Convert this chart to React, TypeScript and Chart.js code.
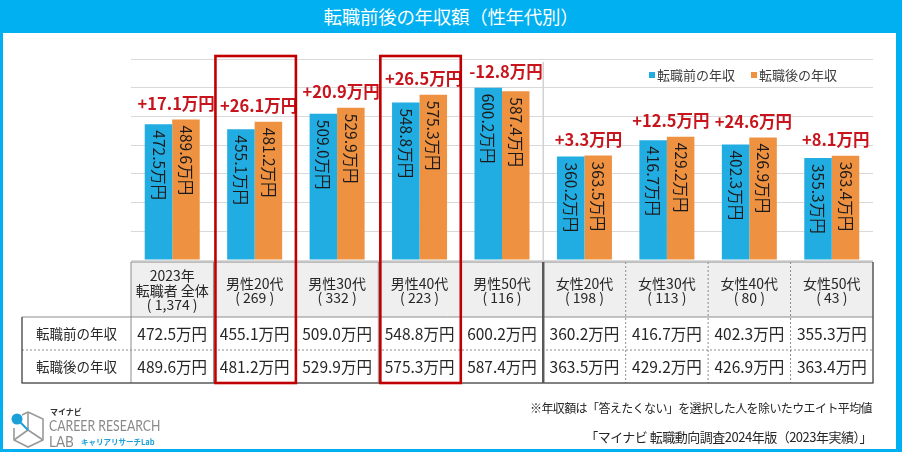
import React, { useEffect, useRef } from 'react';
import { Chart, registerables } from 'chart.js';

Chart.register(...registerables);

const FONT = '"Noto Sans CJK JP", "Noto Sans", sans-serif';

// ---- data ----
const groupLabels: string[][] = [
  ['2023年', '転職者 全体'],
  ['男性20代'],
  ['男性30代'],
  ['男性40代'],
  ['男性50代'],
  ['女性20代'],
  ['女性30代'],
  ['女性40代'],
  ['女性50代'],
];
const sampleSizes = ['1,374', '269', '332', '223', '116', '198', '113', '80', '43'];
const beforeIncome = [472.5, 455.1, 509.0, 548.8, 600.2, 360.2, 416.7, 402.3, 355.3];
const afterIncome = [489.6, 481.2, 529.9, 575.3, 587.4, 363.5, 429.2, 426.9, 363.4];
const seriesNames = ['転職前の年収', '転職後の年収'];
const highlightedGroups = ['男性20代', '男性40代'];
const yMax = 700;
const yStep = 100;

const BLUE = '#22ade2';
const ORANGE = '#ee9140';
const RED = '#c00000';

const fmt = (v: number) => `${v.toFixed(1)}万円`;
const fmtDiff = (d: number) => `${d >= 0 ? '+' : '-'}${Math.abs(d).toFixed(1)}万円`;

const overlayPlugin = {
  id: 'overlay',
  beforeDatasetsDraw(chart: any) {
    const { ctx, chartArea: ca, scales } = chart;
    const x = scales.x;
    const n = groupLabels.length;
    const cw = (ca.right - ca.left) / n;
    const splitIdx = groupLabels.findIndex((g) => g[0].startsWith('女性'));
    const sx = x.getPixelForValue(splitIdx) - cw / 2;
    ctx.save();
    ctx.strokeStyle = '#d2d2d2';
    ctx.lineWidth = 1.5;
    ctx.beginPath();
    ctx.moveTo(sx, ca.top + 3);
    ctx.lineTo(sx, ca.bottom);
    ctx.stroke();
    ctx.restore();
  },
  afterDatasetsDraw(chart: any) {
    const { ctx, chartArea: ca, scales } = chart;
    const x = scales.x;
    const n = groupLabels.length;
    const cw = (ca.right - ca.left) / n;
    const colL = (i: number) => x.getPixelForValue(i) - cw / 2;
    const colR = (i: number) => x.getPixelForValue(i) + cw / 2;
    const m0 = chart.getDatasetMeta(0);
    const m1 = chart.getDatasetMeta(1);

    ctx.save();
    // bar value labels (rotated)
    ctx.font = `15.5px ${FONT}`;
    ctx.fillStyle = '#1a1a1a';
    [m0, m1].forEach((meta: any, di: number) => {
      const vals = di === 0 ? beforeIncome : afterIncome;
      meta.data.forEach((el: any, i: number) => {
        ctx.save();
        ctx.translate(el.x, el.y + 6);
        ctx.rotate(Math.PI / 2);
        ctx.textAlign = 'left';
        ctx.textBaseline = 'middle';
        ctx.fillText(fmt(vals[i]), 0, 0);
        ctx.restore();
      });
    });

    // difference labels
    ctx.font = `bold 16.5px ${FONT}`;
    ctx.fillStyle = '#c8141c';
    ctx.textAlign = 'center';
    ctx.textBaseline = 'middle';
    groupLabels.forEach((_, i) => {
      const a = m0.data[i];
      const b = m1.data[i];
      const cx = (a.x + b.x) / 2;
      const top = Math.min(a.y, b.y);
      ctx.fillText(fmtDiff(afterIncome[i] - beforeIncome[i]), cx + 4, top - 16);
    });

    // legend
    ctx.font = `13px ${FONT}`;
    ctx.textBaseline = 'middle';
    ctx.textAlign = 'left';
    const colors = [BLUE, ORANGE];
    const sq = 6;
    const gapSq = 2;
    const gapItem = 16;
    const widths = seriesNames.map((s) => ctx.measureText(s).width);
    const total = widths.reduce((a, w) => a + sq + gapSq + w, 0) + gapItem;
    let lx = ca.right - 36 - total;
    const ly = ca.top + 16;
    seriesNames.forEach((s, i) => {
      ctx.fillStyle = colors[i];
      ctx.fillRect(lx, ly - sq / 2, sq, sq);
      ctx.fillStyle = '#404040';
      ctx.fillText(s, lx + sq + gapSq, ly + 0.5);
      lx += sq + gapSq + widths[i] + gapItem;
    });

    // ---- table ----
    const tTop = ca.bottom + 2;
    const hB = tTop + 55;
    const r1B = hB + 33;
    const r2B = r1B + 33;
    const tLeft = 22;
    const tRight = ca.right;

    // header background
    ctx.fillStyle = '#efefef';
    groupLabels.forEach((_, i) => {
      ctx.fillRect(colL(i), tTop, cw, hB - tTop);
    });

    // header text
    ctx.fillStyle = '#262626';
    ctx.font = `14px ${FONT}`;
    ctx.textAlign = 'center';
    ctx.textBaseline = 'middle';
    const lh = 14.5;
    groupLabels.forEach((g, i) => {
      const lines = [...g, `( ${sampleSizes[i]} )`];
      const cy = (tTop + hB) / 2;
      const start = cy - ((lines.length - 1) * lh) / 2;
      lines.forEach((ln, k) => ctx.fillText(ln, x.getPixelForValue(i), start + k * lh + 1));
    });

    // row labels and values
    ctx.font = `13.5px ${FONT}`;
    ctx.fillText(seriesNames[0], (tLeft + ca.left) / 2, (hB + r1B) / 2);
    ctx.fillText(seriesNames[1], (tLeft + ca.left) / 2, (r1B + r2B) / 2);
    ctx.font = `15.5px ${FONT}`;
    groupLabels.forEach((_, i) => {
      ctx.fillText(fmt(beforeIncome[i]), x.getPixelForValue(i), (hB + r1B) / 2 + 1);
      ctx.fillText(fmt(afterIncome[i]), x.getPixelForValue(i), (r1B + r2B) / 2 + 1);
    });

    const line = (x1: number, y1: number, x2: number, y2: number, color: string, w: number, dash: number[] = []) => {
      ctx.save();
      ctx.strokeStyle = color;
      ctx.lineWidth = w;
      ctx.setLineDash(dash);
      ctx.beginPath();
      ctx.moveTo(x1, y1);
      ctx.lineTo(x2, y2);
      ctx.stroke();
      ctx.restore();
    };

    const splitIdx = groupLabels.findIndex((g) => g[0].startsWith('女性'));
    // vertical lines
    for (let i = 0; i < n; i++) {
      const xl = colL(i);
      if (i === splitIdx) continue;
      if (i > splitIdx) {
        line(xl, tTop, xl, r2B, '#8c8c8c', 1, [2, 2]);
      } else {
        line(xl, tTop, xl, r2B, '#8c8c8c', 1);
      }
    }
    // horizontal lines
    line(ca.left, tTop, tRight, tTop, '#8c8c8c', 1);
    line(tLeft, hB, tRight, hB, '#8c8c8c', 1);
    line(tLeft, r1B, tRight, r1B, '#8c8c8c', 1, [2, 2]);
    line(tLeft - 0.5, r2B, tRight + 0.5, r2B, '#595959', 1.5);
    line(tLeft, hB, tLeft, r2B, '#595959', 1.5);
    line(tRight, tTop, tRight, r2B, '#595959', 1.5);
    // gender split thick line
    const sx = colL(splitIdx);
    line(sx, tTop, sx, r2B, '#595959', 2.5);

    // highlight boxes
    ctx.strokeStyle = RED;
    ctx.lineWidth = 2.6;
    groupLabels.forEach((g, i) => {
      if (highlightedGroups.includes(g[0])) {
        ctx.strokeRect(colL(i) + 2, ca.top - 3, colR(i) - colL(i) - 2, r2B - ca.top + 3);
      }
    });

    ctx.restore();
  },
};

function Logo() {
  return (
    <div style={{ position: 'absolute', left: 10, top: 404, width: 160, height: 45 }}>
      <svg width={40} height={44} style={{ position: 'absolute', left: 0, top: 2 }}>
        <g fill="none" stroke="#9a9a9a" strokeWidth={1.6}>
          <polyline points="18,6 33,13 33,34 18,41 4,34 4,22" />
          <polyline points="18,6 18,24 33,34" />
          <polyline points="4,34 18,24" />
          <line x1="18" y1="6" x2="12" y2="9" />
        </g>
        <line x1="7" y1="13" x2="18" y2="24" stroke="#1a9fd8" strokeWidth={2} />
        <circle cx={7} cy={13} r={5.5} fill="#1a9fd8" />
      </svg>
      <div style={{ position: 'absolute', left: 40, top: 3, fontSize: 8, fontWeight: 700, color: '#333', fontFamily: FONT, lineHeight: '10px' }}>マイナビ</div>
      <div style={{ position: 'absolute', left: 39, top: 12, fontSize: 15, color: '#8a8a8a', fontFamily: 'Lato, sans-serif', lineHeight: '18px', whiteSpace: 'nowrap', transform: 'scaleX(0.82)', transformOrigin: 'left top' }}>CAREER RESEARCH</div>
      <div style={{ position: 'absolute', left: 39, top: 28, fontSize: 15, color: '#8a8a8a', fontFamily: 'Lato, sans-serif', lineHeight: '18px', whiteSpace: 'nowrap', transform: 'scaleX(0.9)', transformOrigin: 'left top' }}>LAB</div>
      <div style={{ position: 'absolute', left: 71, top: 33, fontSize: 7.5, fontWeight: 700, color: '#1a9fd8', fontFamily: FONT, lineHeight: '10px', whiteSpace: 'nowrap' }}>キャリアリサーチLab</div>
    </div>
  );
}

export default function App() {
  const ref = useRef<HTMLCanvasElement | null>(null);
  useEffect(() => {
    if (!ref.current) return;
    const chart = new Chart(ref.current, {
      type: 'bar',
      data: {
        labels: groupLabels.map((g) => g.join(' ')),
        datasets: [
          { label: seriesNames[0], data: beforeIncome, backgroundColor: BLUE, borderWidth: 0 },
          { label: seriesNames[1], data: afterIncome, backgroundColor: ORANGE, borderWidth: 0 },
        ],
      },
      options: {
        responsive: false,
        animation: false,
        devicePixelRatio: 1,
        layout: { padding: { left: 131, right: 29, top: 59, bottom: 192 } },
        datasets: { bar: { barPercentage: 1, categoryPercentage: 0.667 } },
        plugins: { legend: { display: false }, tooltip: { enabled: false }, title: { display: false } },
        scales: {
          x: { display: false },
          y: {
            display: true,
            min: 0,
            max: yMax,
            ticks: { display: false, stepSize: yStep },
            grid: { color: '#d9d9d9', lineWidth: 1, drawTicks: false },
            border: { display: false },
          },
        },
      },
      plugins: [overlayPlugin],
    } as any);
    return () => chart.destroy();
  }, []);

  return (
    <div style={{ position: 'absolute', left: 0, top: 0, width: 902, height: 452, background: '#00b0f0', overflow: 'hidden', fontFamily: FONT }}>
      <div style={{ position: 'absolute', left: 3, top: 33, width: 893, height: 416, background: '#ffffff' }} />
      <div style={{ position: 'absolute', left: 0, top: 0, width: 902, height: 33, lineHeight: '33px', textAlign: 'center', color: '#ffffff', fontSize: 18.5, letterSpacing: '-0.3px' }}>
        転職前後の年収額（性年代別）
      </div>
      <canvas ref={ref} width={902} height={452} style={{ position: 'absolute', left: 0, top: 0 }} />
      <div style={{ position: 'absolute', right: 30, top: 399, fontSize: 12, lineHeight: '18px', color: '#262626', letterSpacing: '-0.6px', whiteSpace: 'nowrap' }}>
        ※年収額は「答えたくない」を選択した人を除いたウエイト平均値
      </div>
      <div style={{ position: 'absolute', right: 30, top: 428, fontSize: 13, lineHeight: '18px', color: '#262626', letterSpacing: '-0.5px', whiteSpace: 'nowrap' }}>
        「マイナビ 転職動向調査2024年版（2023年実績）」
      </div>
      <Logo />
    </div>
  );
}
